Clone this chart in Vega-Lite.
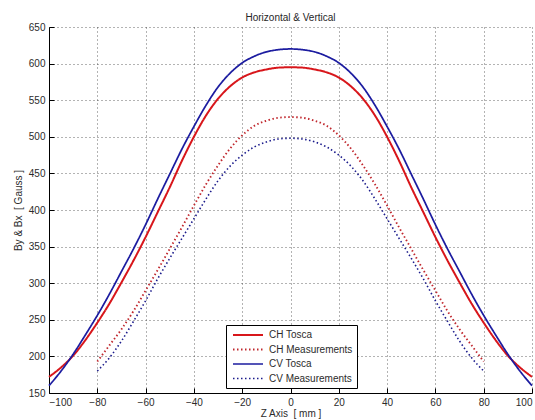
{
  "$schema": "https://vega.github.io/schema/vega-lite/v6.json",
  "width": 483,
  "height": 366,
  "autosize": "none",
  "padding": {"left": 49, "top": 27, "right": 3, "bottom": 27},
  "background": "white",
  "title": {"text": "Horizontal & Vertical", "fontSize": 10, "fontWeight": "normal", "font": "Liberation Sans", "color": "#262626", "offset": -1},
  "config": {
    "view": {"stroke": null},
    "axis": {
      "labelFont": "Liberation Sans", "labelFontSize": 10, "labelColor": "#2b2b2b",
      "titleFont": "Liberation Sans", "titleFontSize": 10, "titleFontWeight": "normal", "titleColor": "#2b2b2b",
      "domainColor": "#000000", "domainWidth": 1,
      "tickColor": "#000000", "tickSize": -5, "tickWidth": 1,
      "grid": true, "gridColor": "#333333", "gridDash": [1, 3], "gridWidth": 1, "gridOpacity": 0.75,
      "labelPadding": 9
    },
    "legend": {"labelFont": "Liberation Sans", "labelFontSize": 10, "labelColor": "#2b2b2b"}
  },
  "datasets": {
    "curves": [
      {"s": "CH Tosca", "z": -100, "b": 172}, {"s": "CH Tosca", "z": -95, "b": 185}, {"s": "CH Tosca", "z": -90, "b": 201}, {"s": "CH Tosca", "z": -85, "b": 222}, {"s": "CH Tosca", "z": -80, "b": 246}, {"s": "CH Tosca", "z": -75, "b": 272}, {"s": "CH Tosca", "z": -70, "b": 301}, {"s": "CH Tosca", "z": -65, "b": 331}, {"s": "CH Tosca", "z": -60, "b": 363}, {"s": "CH Tosca", "z": -55, "b": 397}, {"s": "CH Tosca", "z": -50, "b": 431}, {"s": "CH Tosca", "z": -45, "b": 467}, {"s": "CH Tosca", "z": -40, "b": 500}, {"s": "CH Tosca", "z": -35, "b": 529}, {"s": "CH Tosca", "z": -30, "b": 552}, {"s": "CH Tosca", "z": -25, "b": 569}, {"s": "CH Tosca", "z": -20, "b": 581}, {"s": "CH Tosca", "z": -15, "b": 588}, {"s": "CH Tosca", "z": -10, "b": 592}, {"s": "CH Tosca", "z": -5, "b": 594.5}, {"s": "CH Tosca", "z": 0, "b": 595}, {"s": "CH Tosca", "z": 5, "b": 594.5}, {"s": "CH Tosca", "z": 10, "b": 592}, {"s": "CH Tosca", "z": 15, "b": 588}, {"s": "CH Tosca", "z": 20, "b": 581}, {"s": "CH Tosca", "z": 25, "b": 569}, {"s": "CH Tosca", "z": 30, "b": 552}, {"s": "CH Tosca", "z": 35, "b": 529}, {"s": "CH Tosca", "z": 40, "b": 500}, {"s": "CH Tosca", "z": 45, "b": 467}, {"s": "CH Tosca", "z": 50, "b": 431}, {"s": "CH Tosca", "z": 55, "b": 397}, {"s": "CH Tosca", "z": 60, "b": 363}, {"s": "CH Tosca", "z": 65, "b": 331}, {"s": "CH Tosca", "z": 70, "b": 301}, {"s": "CH Tosca", "z": 75, "b": 272}, {"s": "CH Tosca", "z": 80, "b": 246}, {"s": "CH Tosca", "z": 85, "b": 222}, {"s": "CH Tosca", "z": 90, "b": 201}, {"s": "CH Tosca", "z": 95, "b": 185}, {"s": "CH Tosca", "z": 100, "b": 172},
      {"s": "CH Measurements", "z": -80, "b": 193}, {"s": "CH Measurements", "z": -75, "b": 215}, {"s": "CH Measurements", "z": -70, "b": 237}, {"s": "CH Measurements", "z": -65, "b": 262}, {"s": "CH Measurements", "z": -60, "b": 290}, {"s": "CH Measurements", "z": -55, "b": 318}, {"s": "CH Measurements", "z": -50, "b": 347}, {"s": "CH Measurements", "z": -45, "b": 376}, {"s": "CH Measurements", "z": -40, "b": 406}, {"s": "CH Measurements", "z": -35, "b": 435}, {"s": "CH Measurements", "z": -30, "b": 461}, {"s": "CH Measurements", "z": -25, "b": 484}, {"s": "CH Measurements", "z": -20, "b": 502}, {"s": "CH Measurements", "z": -15, "b": 515}, {"s": "CH Measurements", "z": -10, "b": 522}, {"s": "CH Measurements", "z": -5, "b": 526}, {"s": "CH Measurements", "z": 0, "b": 527}, {"s": "CH Measurements", "z": 5, "b": 526}, {"s": "CH Measurements", "z": 10, "b": 522}, {"s": "CH Measurements", "z": 15, "b": 515}, {"s": "CH Measurements", "z": 20, "b": 502}, {"s": "CH Measurements", "z": 25, "b": 484}, {"s": "CH Measurements", "z": 30, "b": 461}, {"s": "CH Measurements", "z": 35, "b": 435}, {"s": "CH Measurements", "z": 40, "b": 406}, {"s": "CH Measurements", "z": 45, "b": 376}, {"s": "CH Measurements", "z": 50, "b": 347}, {"s": "CH Measurements", "z": 55, "b": 318}, {"s": "CH Measurements", "z": 60, "b": 290}, {"s": "CH Measurements", "z": 65, "b": 262}, {"s": "CH Measurements", "z": 70, "b": 237}, {"s": "CH Measurements", "z": 75, "b": 215}, {"s": "CH Measurements", "z": 80, "b": 193},
      {"s": "CV Tosca", "z": -100, "b": 160}, {"s": "CV Tosca", "z": -95, "b": 180}, {"s": "CV Tosca", "z": -90, "b": 203}, {"s": "CV Tosca", "z": -85, "b": 229}, {"s": "CV Tosca", "z": -80, "b": 256}, {"s": "CV Tosca", "z": -75, "b": 285}, {"s": "CV Tosca", "z": -70, "b": 316}, {"s": "CV Tosca", "z": -65, "b": 347}, {"s": "CV Tosca", "z": -60, "b": 380}, {"s": "CV Tosca", "z": -55, "b": 415}, {"s": "CV Tosca", "z": -50, "b": 449}, {"s": "CV Tosca", "z": -45, "b": 483}, {"s": "CV Tosca", "z": -40, "b": 514}, {"s": "CV Tosca", "z": -35, "b": 543}, {"s": "CV Tosca", "z": -30, "b": 568}, {"s": "CV Tosca", "z": -25, "b": 587}, {"s": "CV Tosca", "z": -20, "b": 601}, {"s": "CV Tosca", "z": -15, "b": 610}, {"s": "CV Tosca", "z": -10, "b": 616}, {"s": "CV Tosca", "z": -5, "b": 619}, {"s": "CV Tosca", "z": 0, "b": 620}, {"s": "CV Tosca", "z": 5, "b": 619}, {"s": "CV Tosca", "z": 10, "b": 616}, {"s": "CV Tosca", "z": 15, "b": 610}, {"s": "CV Tosca", "z": 20, "b": 601}, {"s": "CV Tosca", "z": 25, "b": 587}, {"s": "CV Tosca", "z": 30, "b": 568}, {"s": "CV Tosca", "z": 35, "b": 543}, {"s": "CV Tosca", "z": 40, "b": 514}, {"s": "CV Tosca", "z": 45, "b": 483}, {"s": "CV Tosca", "z": 50, "b": 449}, {"s": "CV Tosca", "z": 55, "b": 415}, {"s": "CV Tosca", "z": 60, "b": 380}, {"s": "CV Tosca", "z": 65, "b": 347}, {"s": "CV Tosca", "z": 70, "b": 316}, {"s": "CV Tosca", "z": 75, "b": 285}, {"s": "CV Tosca", "z": 80, "b": 256}, {"s": "CV Tosca", "z": 85, "b": 229}, {"s": "CV Tosca", "z": 90, "b": 203}, {"s": "CV Tosca", "z": 95, "b": 180}, {"s": "CV Tosca", "z": 100, "b": 160},
      {"s": "CV Measurements", "z": -80, "b": 180}, {"s": "CV Measurements", "z": -75, "b": 198}, {"s": "CV Measurements", "z": -70, "b": 221}, {"s": "CV Measurements", "z": -65, "b": 248}, {"s": "CV Measurements", "z": -60, "b": 276}, {"s": "CV Measurements", "z": -55, "b": 306}, {"s": "CV Measurements", "z": -50, "b": 334}, {"s": "CV Measurements", "z": -45, "b": 361}, {"s": "CV Measurements", "z": -40, "b": 388}, {"s": "CV Measurements", "z": -35, "b": 415}, {"s": "CV Measurements", "z": -30, "b": 440}, {"s": "CV Measurements", "z": -25, "b": 460}, {"s": "CV Measurements", "z": -20, "b": 475}, {"s": "CV Measurements", "z": -15, "b": 486}, {"s": "CV Measurements", "z": -10, "b": 493}, {"s": "CV Measurements", "z": -5, "b": 497}, {"s": "CV Measurements", "z": 0, "b": 498}, {"s": "CV Measurements", "z": 5, "b": 497}, {"s": "CV Measurements", "z": 10, "b": 493}, {"s": "CV Measurements", "z": 15, "b": 486}, {"s": "CV Measurements", "z": 20, "b": 475}, {"s": "CV Measurements", "z": 25, "b": 460}, {"s": "CV Measurements", "z": 30, "b": 440}, {"s": "CV Measurements", "z": 35, "b": 415}, {"s": "CV Measurements", "z": 40, "b": 388}, {"s": "CV Measurements", "z": 45, "b": 361}, {"s": "CV Measurements", "z": 50, "b": 334}, {"s": "CV Measurements", "z": 55, "b": 306}, {"s": "CV Measurements", "z": 60, "b": 276}, {"s": "CV Measurements", "z": 65, "b": 248}, {"s": "CV Measurements", "z": 70, "b": 221}, {"s": "CV Measurements", "z": 75, "b": 198}, {"s": "CV Measurements", "z": 80, "b": 180}
    ]
  },
  "data": {"name": "curves"},
  "mark": {"type": "line", "interpolate": "monotone"},
  "encoding": {
    "x": {
      "field": "z", "type": "quantitative",
      "scale": {"domain": [-100, 100], "nice": false},
      "axis": {"values": [-100, -80, -60, -40, -20, 0, 20, 40, 60, 80, 100], "title": "Z Axis\u00a0 [ mm ]", "titlePadding": 1}
    },
    "y": {
      "field": "b", "type": "quantitative",
      "scale": {"domain": [150, 650], "nice": false, "zero": false},
      "axis": {"values": [150, 200, 250, 300, 350, 400, 450, 500, 550, 600, 650], "title": "By & Bx\u00a0 [ Gauss ]", "titlePadding": 5}
    },
    "color": {
      "field": "s", "type": "nominal",
      "scale": {"domain": ["CH Tosca", "CH Measurements", "CV Tosca", "CV Measurements"], "range": ["#d8161b", "#c0282e", "#1c1ca0", "#1c1c8c"]},
      "legend": {"title": null, "orient": "none", "legendX": 177, "legendY": 298, "symbolType": "M-3,0H3", "symbolSize": 100, "symbolStrokeWidth": 2, "symbolOffset": 12, "strokeColor": "#000000", "fillColor": "#ffffff", "padding": 4, "rowPadding": 3.5, "labelOffset": 15}
    },
    "strokeDash": {
      "field": "s", "type": "nominal",
      "scale": {"domain": ["CH Tosca", "CH Measurements", "CV Tosca", "CV Measurements"], "range": [[1, 0], [1.5, 2.5], [1, 0], [1.5, 2.5]]},
      "legend": {"title": null, "orient": "none", "legendX": 177, "legendY": 298, "symbolType": "M-3,0H3", "symbolSize": 100, "symbolStrokeWidth": 2, "symbolOffset": 12, "strokeColor": "#000000", "fillColor": "#ffffff", "padding": 4, "rowPadding": 3.5, "labelOffset": 15}
    },
    "strokeWidth": {
      "field": "s", "type": "nominal",
      "scale": {"domain": ["CH Tosca", "CH Measurements", "CV Tosca", "CV Measurements"], "range": [2, 1.6, 2, 1.6]},
      "legend": null
    }
  }
}
